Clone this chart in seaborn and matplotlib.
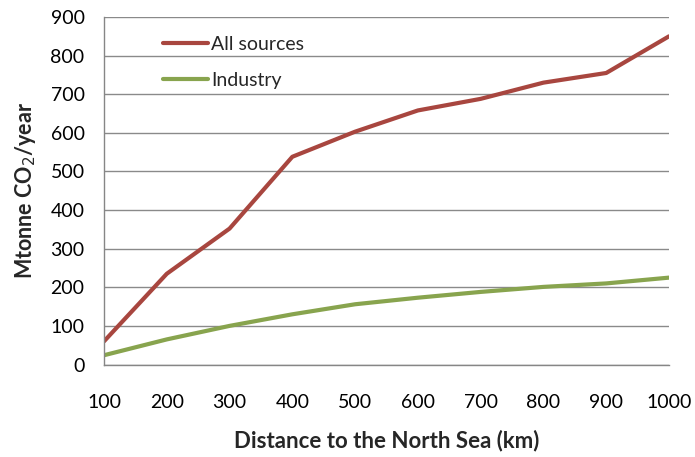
import matplotlib
matplotlib.use("Agg")
import matplotlib.pyplot as plt
import seaborn as sns
import pandas as pd

distance = [100, 200, 300, 400, 500, 600, 700, 800, 900, 1000]
all_sources = [60, 235, 352, 538, 603, 658, 688, 730, 755, 850]
industry = [24, 65, 100, 130, 156, 173, 188, 201, 210, 225]
series_names = ["All sources", "Industry"]
colors = ["#A8463F", "#88A44E"]

df = pd.DataFrame({
    "Distance": distance * 2,
    "Value": all_sources + industry,
    "Series": [series_names[0]] * len(distance) + [series_names[1]] * len(distance),
})

sns.set_style("white")
plt.rcParams["font.family"] = ["Lato", "DejaVu Sans"]

fig = plt.figure(figsize=(6.95, 4.57), dpi=100)
ax = fig.add_axes([104 / 695, 1 - 364.5 / 457, (669 - 104) / 695, (364.5 - 17) / 457])

sns.lineplot(data=df, x="Distance", y="Value", hue="Series", palette=colors,
             linewidth=3, ax=ax, legend=True)

ax.set_xlim(100, 1000)
ax.set_ylim(0, 900)
ax.set_xticks(distance)
ax.set_yticks(range(0, 901, 100))
ax.tick_params(axis="both", labelsize=14, colors="#000000", length=5, width=1,
               direction="out", color="#868686")
ax.tick_params(axis="x", pad=16)
ax.tick_params(axis="y", pad=9)
ax.yaxis.grid(True, color="#8A8A8A", linewidth=1)
ax.xaxis.grid(False)
for s in ["top", "right"]:
    ax.spines[s].set_visible(False)
for s in ["left", "bottom"]:
    ax.spines[s].set_color("#868686")
    ax.spines[s].set_linewidth(1)
ax.set_axisbelow(True)

ax.set_xlabel("Distance to the North Sea (km)", fontsize=16, fontweight="bold", labelpad=14)
ax.set_ylabel("Mtonne CO$_2$/year", fontsize=15.5, fontweight="bold", labelpad=9)

leg = ax.legend(loc="upper left", bbox_to_anchor=(0.074, 0.995), frameon=False,
                fontsize=14, handlelength=2.3, handletextpad=0.15, labelspacing=0.98)

fig.savefig("out.png", dpi=100)
